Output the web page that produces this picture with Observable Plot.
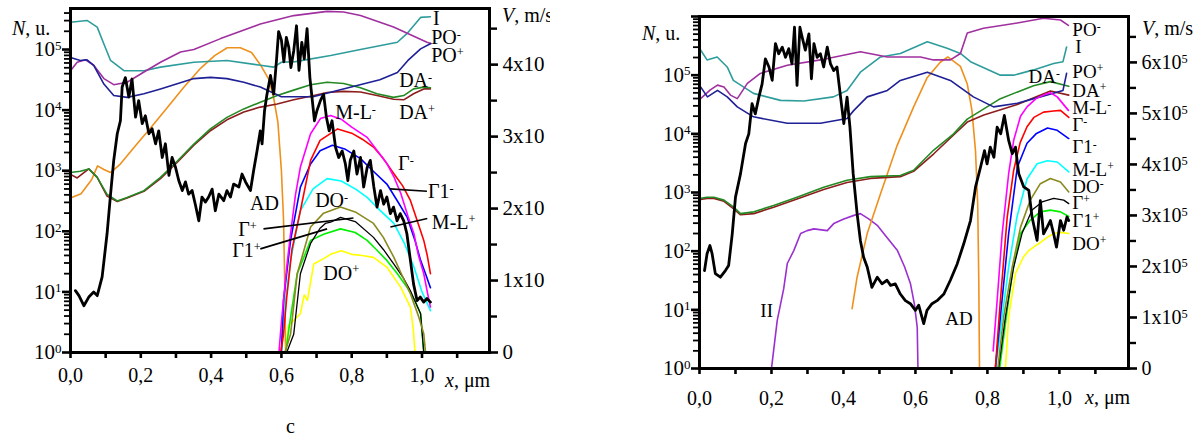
<!DOCTYPE html>
<html><head><meta charset="utf-8">
<script src="https://cdn.jsdelivr.net/npm/d3@7"></script>
<script src="https://cdn.jsdelivr.net/npm/@observablehq/plot@0.6"></script>
<style>
body{margin:0;background:#fff;}
#wrap{position:relative;width:1204px;height:438px;overflow:hidden;background:#fff;font-family:"Liberation Serif","Times New Roman",serif;}
.panel{position:absolute;top:0;height:438px;overflow:hidden;}
.panel svg{position:absolute;left:0;top:0;}
.lab{position:absolute;font-size:20px;line-height:20px;white-space:nowrap;color:#000;transform:translateY(-50%);}
</style></head><body>
<div id="wrap">
 <div id="L" class="panel" style="left:0;width:550px"></div>
 <div id="R" class="panel" style="left:620px;width:584px"></div>
</div>
<script>
// ---------- DATA: [x (µm), log10 N] for N curves; [x, V (x10^5 m/s)] for V ----------
// Left panel
const L_I = [[0,5.45],[0.047,5.48],[0.076,5.37],[0.095,5.09],[0.114,4.82],[0.152,4.65],[0.209,4.65],[0.256,4.71],[0.351,4.79],[0.445,4.82],[0.54,4.74],[0.578,4.71],[0.6,4.79],[0.64,4.8],[0.74,4.9],[0.825,5.0],[0.93,5.12],[0.96,5.28],[0.996,5.53],[1.024,5.54]];
const L_POm = [[0,4.65],[0.019,4.79],[0.043,4.83],[0.066,4.74],[0.095,4.52],[0.123,4.42],[0.161,4.46],[0.209,4.63],[0.256,4.79],[0.313,4.96],[0.351,5.0],[0.427,5.18],[0.54,5.42],[0.635,5.56],[0.73,5.63],[0.777,5.62],[0.825,5.56],[0.919,5.37],[1.014,5.12],[1.025,5.1]];
const L_POp = [[0,4.87],[0.028,4.82],[0.047,4.83],[0.066,4.74],[0.095,4.43],[0.123,4.24],[0.161,4.21],[0.209,4.27],[0.256,4.35],[0.351,4.52],[0.398,4.54],[0.445,4.52],[0.493,4.46],[0.54,4.38],[0.6,4.22],[0.69,4.22],[0.79,4.37],[0.88,4.5],[0.93,4.62],[0.96,4.82],[0.996,5.01],[1.025,5.1]];
const L_DAm = [[0,2.97],[0.028,2.99],[0.052,3.03],[0.076,2.89],[0.104,2.61],[0.133,2.5],[0.161,2.56],[0.209,2.67],[0.256,2.89],[0.304,3.16],[0.351,3.44],[0.398,3.69],[0.445,3.88],[0.493,4.02],[0.54,4.13],[0.588,4.24],[0.635,4.33],[0.683,4.42],[0.73,4.46],[0.777,4.44],[0.825,4.37],[0.872,4.27],[0.919,4.21],[0.948,4.24],[0.976,4.35],[1.005,4.38],[1.024,4.37]];
const L_DAp = [[0,2.94],[0.019,2.88],[0.052,3.03],[0.076,2.89],[0.104,2.58],[0.133,2.49],[0.161,2.55],[0.209,2.66],[0.256,2.87],[0.304,3.14],[0.351,3.42],[0.398,3.66],[0.445,3.84],[0.493,3.97],[0.54,4.05],[0.588,4.1],[0.635,4.17],[0.683,4.23],[0.73,4.29],[0.777,4.31],[0.825,4.3],[0.872,4.24],[0.919,4.18],[0.948,4.17],[0.976,4.27],[1.005,4.35],[1.024,4.35]];
const L_AD = [[0,2.55],[0.03,2.62],[0.06,2.85],[0.077,3.08],[0.095,3.02],[0.114,2.97],[0.14,3.1],[0.18,3.38],[0.23,3.72],[0.275,4.04],[0.32,4.36],[0.37,4.69],[0.41,4.9],[0.446,5.03],[0.483,5.03],[0.515,4.95],[0.54,4.75],[0.565,4.5],[0.578,4.2],[0.59,3.8],[0.6,3.0],[0.606,2.2],[0.609,1.3],[0.612,0]];
const L_MLm = [[0.593,0],[0.6,0.5],[0.606,0.86],[0.615,1.4],[0.626,1.96],[0.64,2.6],[0.654,3.06],[0.683,3.61],[0.711,3.86],[0.74,3.91],[0.77,3.85],[0.8,3.72],[0.844,3.55],[0.87,3.35],[0.9,3.12],[0.92,2.9],[0.94,2.62],[0.96,2.25],[0.977,1.96],[0.99,1.6],[1.005,1.3],[1.015,1.0],[1.024,0.75]];
const L_Gm = [[0.598,0],[0.606,0.3],[0.615,0.9],[0.63,1.7],[0.654,2.34],[0.683,3.17],[0.71,3.5],[0.76,3.69],[0.8,3.62],[0.83,3.52],[0.862,3.39],[0.89,3.2],[0.92,2.95],[0.945,2.75],[0.967,2.51],[0.985,2.2],[1.005,1.85],[1.015,1.6],[1.024,1.3]];
const L_G1m = [[0.6,0],[0.606,0.86],[0.626,1.85],[0.654,2.73],[0.683,3.11],[0.71,3.33],[0.745,3.42],[0.78,3.36],[0.825,3.2],[0.86,3.0],[0.9,2.78],[0.93,2.5],[0.958,2.23],[0.98,1.85],[0.996,1.52],[1.01,1.3],[1.024,1.07]];
const L_MLp = [[0.6,0],[0.606,0.58],[0.626,1.52],[0.654,2.34],[0.69,2.7],[0.73,2.87],[0.77,2.83],[0.81,2.7],[0.844,2.56],[0.88,2.35],[0.92,2.13],[0.95,1.8],[0.977,1.41],[1.0,1.0],[1.024,0.69]];
const L_DOm = [[0.61,0],[0.626,0.3],[0.645,1.3],[0.683,2.07],[0.72,2.3],[0.768,2.4],[0.81,2.32],[0.862,2.13],[0.89,1.9],[0.92,1.57],[0.945,1.25],[0.967,0.97],[0.99,0.6],[1.005,0.31],[1.01,0]];
const L_Gp = [[0.615,0],[0.635,0.3],[0.654,1.3],[0.683,1.8],[0.71,2.05],[0.725,2.13],[0.74,2.15],[0.768,2.23],[0.81,2.16],[0.862,1.9],[0.89,1.7],[0.92,1.46],[0.945,1.25],[0.967,1.02],[0.996,0.64],[1.005,0]];
const L_G1p = [[0.612,0],[0.626,0.58],[0.645,1.3],[0.683,1.85],[0.72,1.95],[0.768,2.04],[0.81,1.98],[0.844,1.85],[0.87,1.7],[0.9,1.52],[0.93,1.3],[0.958,1.07],[0.98,0.85],[0.996,0.64],[1.005,0]];
const L_DOp = [[0.612,0],[0.62,0.45],[0.635,0.53],[0.654,0.64],[0.665,0.95],[0.674,0.86],[0.692,1.46],[0.72,1.55],[0.74,1.62],[0.77,1.68],[0.8,1.62],[0.83,1.6],[0.862,1.57],[0.9,1.41],[0.94,1.07],[0.967,0.75],[0.975,0.4],[0.98,0]];
const L_V = [[0.014,0.86],[0.024,0.79],[0.038,0.65],[0.052,0.77],[0.066,0.84],[0.076,0.79],[0.09,1.05],[0.104,1.65],[0.114,2.2],[0.123,2.67],[0.133,3.04],[0.142,3.22],[0.147,3.69],[0.156,3.82],[0.166,3.55],[0.175,3.8],[0.185,3.27],[0.194,3.5],[0.204,3.18],[0.213,3.29],[0.223,3.04],[0.232,3.11],[0.242,2.9],[0.251,3.08],[0.261,2.71],[0.27,2.9],[0.28,2.46],[0.289,2.71],[0.299,2.57],[0.308,2.39],[0.318,2.25],[0.327,2.37],[0.336,2.2],[0.346,2.25],[0.355,2.06],[0.365,1.83],[0.374,2.16],[0.384,2.09],[0.393,2.16],[0.403,2.27],[0.412,1.97],[0.422,2.2],[0.436,2.11],[0.445,2.25],[0.455,2.16],[0.464,2.34],[0.479,2.3],[0.488,2.48],[0.498,2.37],[0.512,2.25],[0.521,2.53],[0.531,2.81],[0.54,3.08],[0.545,2.9],[0.552,3.36],[0.559,3.59],[0.569,3.85],[0.578,3.59],[0.586,4.06],[0.592,4.46],[0.6,4.34],[0.607,4.04],[0.614,4.38],[0.621,4.24],[0.627,3.96],[0.635,4.19],[0.643,4.54],[0.65,3.92],[0.658,4.31],[0.665,4.08],[0.673,4.5],[0.681,3.82],[0.688,3.5],[0.694,3.22],[0.701,3.36],[0.711,3.5],[0.72,3.59],[0.728,3.27],[0.736,3.08],[0.744,3.22],[0.754,2.85],[0.763,2.71],[0.773,2.8],[0.782,2.62],[0.789,2.39],[0.796,2.67],[0.806,2.8],[0.815,2.48],[0.825,2.71],[0.834,2.3],[0.844,2.57],[0.853,2.67],[0.863,2.3],[0.872,2.02],[0.882,2.25],[0.891,2.06],[0.9,2.16],[0.91,1.93],[0.919,2.02],[0.929,1.83],[0.938,1.93],[0.948,1.83],[0.957,1.65],[0.967,1.28],[0.976,0.95],[0.986,0.72],[0.995,0.77],[1.005,0.7],[1.014,0.75],[1.024,0.7]];

// Right panel
const R_I = [[0.003,5.43],[0.021,5.26],[0.049,5.31],[0.077,5.14],[0.094,4.91],[0.15,4.69],[0.225,4.57],[0.29,4.56],[0.372,4.63],[0.41,4.74],[0.447,5.05],[0.503,5.31],[0.558,5.37],[0.633,5.57],[0.688,5.46],[0.725,5.37],[0.753,5.23],[0.836,5.0],[0.873,5.0],[0.928,5.09],[0.984,5.2],[1.01,5.23],[1.02,5.48]];
const R_POm = [[0.003,4.6],[0.03,4.75],[0.05,4.83],[0.068,4.8],[0.086,4.66],[0.105,4.6],[0.133,4.86],[0.169,5.03],[0.244,5.17],[0.336,5.26],[0.447,5.4],[0.522,5.31],[0.614,5.31],[0.65,5.26],[0.697,5.26],[0.725,5.37],[0.744,5.72],[0.789,5.8],[0.883,5.89],[0.956,5.97],[1.003,5.94],[1.025,5.85]];
const R_POp = [[0.003,4.8],[0.022,4.63],[0.05,4.74],[0.077,4.63],[0.105,4.46],[0.15,4.29],[0.244,4.18],[0.336,4.18],[0.41,4.26],[0.429,4.4],[0.466,4.63],[0.522,4.74],[0.558,4.91],[0.633,5.05],[0.697,4.91],[0.761,4.63],[0.817,4.46],[0.883,4.52],[0.947,4.63],[1.01,4.74],[1.02,5.03]];
const R_DAm = [[0.003,2.9],[0.021,2.92],[0.04,2.92],[0.068,2.87],[0.095,2.75],[0.114,2.64],[0.151,2.67],[0.206,2.78],[0.271,2.92],[0.345,3.09],[0.41,3.21],[0.475,3.27],[0.558,3.29],[0.595,3.38],[0.65,3.72],[0.706,4.0],[0.744,4.25],[0.836,4.6],[0.928,4.82],[0.975,4.89],[1.026,4.81]];
const R_DAp = [[0.003,2.88],[0.021,2.9],[0.04,2.9],[0.068,2.85],[0.095,2.72],[0.114,2.62],[0.151,2.64],[0.206,2.75],[0.271,2.89],[0.345,3.05],[0.41,3.17],[0.475,3.24],[0.558,3.27],[0.595,3.36],[0.651,3.66],[0.706,3.98],[0.744,4.2],[0.79,4.32],[0.883,4.5],[0.975,4.73],[1.026,4.66]];
const R_AD = [[0.424,1.02],[0.438,1.56],[0.466,2.3],[0.503,2.98],[0.549,3.8],[0.595,4.46],[0.632,4.95],[0.669,5.22],[0.69,5.31],[0.725,5.15],[0.744,4.85],[0.757,4.4],[0.767,3.7],[0.773,2.8],[0.776,1.5],[0.778,0]];
const R_II = [[0.2,0],[0.216,0.82],[0.234,1.36],[0.244,1.79],[0.262,2.01],[0.281,2.3],[0.299,2.35],[0.318,2.38],[0.355,2.35],[0.373,2.47],[0.401,2.55],[0.429,2.61],[0.447,2.64],[0.47,2.55],[0.494,2.44],[0.512,2.3],[0.55,2.01],[0.57,1.73],[0.586,1.45],[0.597,1.1],[0.605,0.7],[0.607,0]];
const R_MLm = [[0.816,0.3],[0.827,1.16],[0.841,2.3],[0.859,3.32],[0.873,3.89],[0.892,4.3],[0.91,4.46],[0.935,4.6],[0.956,4.66],[0.975,4.7],[0.994,4.63],[1.025,4.4]];
const R_Gm = [[0.822,0],[0.836,1.16],[0.855,2.58],[0.873,3.38],[0.891,3.85],[0.91,4.12],[0.929,4.28],[0.956,4.37],[0.984,4.39],[1.003,4.4],[1.026,4.28]];
const R_G1m = [[0.822,0],[0.836,0.88],[0.859,2.3],[0.883,3.43],[0.91,3.84],[0.935,4.0],[0.967,4.1],[0.994,4.06],[1.026,3.92]];
const R_MLp = [[0.823,0],[0.841,0.88],[0.859,1.73],[0.882,2.58],[0.91,3.23],[0.938,3.49],[0.967,3.54],[0.994,3.52],[1.026,3.35]];
const R_DOm = [[0.829,0],[0.845,0.88],[0.869,1.73],[0.892,2.41],[0.919,2.87],[0.947,3.15],[0.975,3.24],[1.003,3.18],[1.026,3.01]];
const R_Gp = [[0.831,0],[0.85,0.88],[0.873,1.73],[0.896,2.3],[0.924,2.7],[0.952,2.84],[0.984,2.9],[1.012,2.87],[1.026,2.81]];
const R_G1p = [[0.834,0],[0.85,0.76],[0.869,1.62],[0.892,2.3],[0.919,2.53],[0.947,2.67],[0.975,2.7],[1.003,2.67],[1.026,2.59]];
const R_DOp = [[0.85,0],[0.859,0.88],[0.878,1.62],[0.9,1.9],[0.915,2.01],[0.928,2.07],[0.943,2.13],[0.967,2.24],[0.985,2.3],[1.003,2.32],[1.026,2.3]];
const R_V = [[0.014,1.92],[0.021,2.25],[0.029,2.41],[0.035,2.25],[0.044,1.86],[0.058,1.79],[0.072,1.92],[0.081,2.02],[0.091,2.64],[0.1,3.36],[0.114,3.82],[0.128,4.41],[0.137,4.6],[0.146,5.19],[0.155,4.99],[0.165,5.32],[0.174,5.58],[0.183,6.07],[0.193,5.91],[0.202,5.65],[0.211,6.37],[0.22,6.17],[0.23,6.3],[0.239,6.1],[0.248,6.27],[0.257,5.97],[0.264,6.69],[0.271,5.55],[0.279,6.69],[0.285,6.5],[0.294,6.24],[0.304,6.56],[0.311,5.68],[0.318,6.37],[0.327,6.1],[0.336,6.17],[0.345,5.91],[0.355,6.3],[0.364,5.97],[0.373,5.84],[0.382,5.91],[0.392,5.32],[0.401,4.8],[0.41,5.32],[0.418,4.73],[0.427,3.82],[0.438,3.03],[0.447,2.51],[0.456,2.18],[0.466,1.99],[0.479,1.59],[0.494,1.79],[0.507,1.66],[0.521,1.73],[0.531,1.63],[0.544,1.66],[0.558,1.46],[0.572,1.33],[0.586,1.27],[0.6,1.14],[0.609,1.24],[0.623,0.88],[0.632,1.14],[0.646,1.27],[0.66,1.33],[0.679,1.46],[0.697,1.73],[0.716,2.05],[0.734,2.44],[0.753,2.9],[0.767,3.56],[0.781,3.95],[0.792,4.27],[0.799,4.01],[0.808,4.34],[0.818,4.14],[0.827,4.73],[0.837,4.6],[0.847,4.96],[0.859,4.47],[0.869,4.21],[0.878,4.34],[0.887,3.82],[0.901,3.56],[0.915,3.49],[0.924,2.97],[0.938,2.51],[0.947,3.29],[0.956,2.64],[0.966,2.77],[0.975,2.9],[0.984,2.64],[0.992,2.38],[1.003,2.9],[1.012,2.71],[1.021,2.97],[1.026,2.9]];

// Curve labels: [text, x, log10 N]
const L_labels = [["I",1.031,5.51],["PO^-",1.026,5.2],["PO^+",1.026,4.9],["DA^-",0.935,4.49],["DA^+",0.935,3.96],["M-L^-",0.753,3.96],["Γ^-",0.932,3.12],["Γ1^-",1.017,2.66],["M-L^+",1.028,2.14],["AD",0.511,2.45],["DO^-",0.696,2.5],["Γ^+",0.477,2.03],["Γ1^+",0.46,1.68],["DO^+",0.719,1.31]];
const L_leaders = [[0.909,2.7,1.014,2.66],[0.91,2.07,1.015,2.21],[0.549,2.04,0.805,2.22],[0.54,1.71,0.73,2.04]];
const R_labels = [["PO^-",1.036,5.77],["I",1.044,5.48],["DA^-",0.914,4.97],["PO^+",1.036,5.05],["DA^+",1.036,4.74],["M-L^-",1.036,4.44],["Γ^-",1.036,4.15],["Γ1^-",1.036,3.77],["M-L^+",1.036,3.38],["DO^-",1.036,3.09],["Γ^+",1.036,2.82],["Γ1^+",1.036,2.51],["DO^+",1.036,2.13],["II",0.169,0.99],["AD",0.683,0.85]];

// Tick values
const X_TICKS = [0,0.1,0.2,0.3,0.4,0.5,0.6,0.7,0.8,0.9,1.0,1.1];
const X_LABELS = [0,0.2,0.4,0.6,0.8,1.0];
const N_DECADES = [1,10,100,1000,10000,100000];
const V_MAJOR_L = [0,1,2,3,4], V_MINOR_L = [0.5,1.5,2.5,3.5,4.5];
const V_MAJOR_R = [0,1,2,3,4,5,6], V_MINOR_R = [0.5,1.5,2.5,3.5,4.5,5.5,6.5];

const C = {I:"#2f9c9c", POm:"#a0309f", POp:"#1f1f96", DAm:"#238a23", DAp:"#8e1e1e", AD:"#f0901c",
  MLm:"#ff00ff", Gm:"#ff0000", G1m:"#0000ff", MLp:"#00ffff", DOm:"#8a8a1e", Gp:"#000000", G1p:"#00f000", DOp:"#ffff00", II:"#9b30d0"};
const FONT = '"Liberation Serif","Times New Roman",serif';
const XDOM = [0, 1.192];

function minorTicks(top){
  const t=[]; for(let k=0;k<7;k++) for(let m=2;m<=9;m++){const v=m*10**k; if(v<=top) t.push(v);} return t;
}
function supify(root){
  const els=[...root.querySelectorAll("text, tspan")].filter(e=>e.childElementCount===0 && e.textContent.includes("^"));
  for(const e of els){
    const s=e.textContent, i=s.indexOf("^");
    e.textContent=s.slice(0,i);
    const t=document.createElementNS("http://www.w3.org/2000/svg","tspan");
    t.setAttribute("dy","-0.5em"); t.setAttribute("font-size","0.62em");
    t.textContent=s.slice(i+1);
    e.appendChild(t);
  }
}
function addLabel(host, html, left, top, extra){
  const d=document.createElement("div"); d.className="lab"; d.innerHTML=html;
  d.style.left=left+"px"; d.style.top=top+"px"; if(extra) Object.assign(d.style, extra);
  host.appendChild(d);
}

function buildPanel(host, cfg){
  const common = {width:cfg.w, height:438, marginLeft:cfg.mL, marginRight:cfg.mR, marginTop:cfg.mT, marginBottom:cfg.mB,
    style:{fontFamily:FONT, fontSize:"20px", background:"transparent", color:"#000", overflow:"visible"}};
  const N = Plot.plot({...common,
    x:{domain:XDOM}, y:{type:"log", domain:[1, cfg.nTop]},
    marks:[
      ...cfg.series.map(s=>Plot.line(s.pts,{x:d=>d[0], y:d=>10**d[1], stroke:s.c, strokeWidth:s.w||1.6, clip:true})),
      Plot.link(cfg.leaders,{x1:d=>d[0], y1:d=>10**d[1], x2:d=>d[2], y2:d=>10**d[3], stroke:"#000", strokeWidth:1.6}),
      Plot.axisY({anchor:"left", ticks:minorTicks(cfg.nTop), tickSize:6, strokeWidth:1.8, tickFormat:()=>"", label:null}),
      Plot.axisY({anchor:"left", ticks:N_DECADES.concat(cfg.nTop>=1e6?[1e6]:[]), tickSize:8, tickPadding:1, strokeWidth:2.6, fontSize:21,
        tickFormat:d=> d<=1e5 ? "10^"+Math.round(Math.log10(d)) : "", label:null}),
      Plot.axisX({anchor:"bottom", ticks:X_TICKS, tickSize:6, strokeWidth:2.6, tickFormat:()=>"", label:null}),
      Plot.axisX({anchor:"bottom", ticks:X_LABELS, tickSize:0, tickPadding:cfg.xPad, fontSize:20,
        tickFormat:d=>d.toFixed(1).replace(".",","), label:null}),
      Plot.frame({stroke:"#000", strokeWidth:3}),
      Plot.text(cfg.labels,{x:d=>d[1], y:d=>10**d[2], text:d=>d[0], textAnchor:"start", fontSize:cfg.labSize, fill:"#000"})
    ]});
  const V = Plot.plot({...common,
    x:{domain:XDOM, axis:null}, y:{domain:[0,cfg.vTop]},
    marks:[
      Plot.line(cfg.vData,{x:d=>d[0], y:d=>d[1], stroke:"#000", strokeWidth:2.8, clip:true}),
      Plot.axisY({anchor:"right", ticks:cfg.vMinor, tickSize:7, strokeWidth:2.4, tickFormat:()=>"", label:null}),
      Plot.axisY({anchor:"right", ticks:cfg.vMajor, tickSize:8, tickPadding:5, strokeWidth:2.6, fontSize:cfg.vSize,
        tickFormat:d=> d===0 ? "0" : d+cfg.vSuffix, label:null})
    ]});
  supify(N); supify(V);
  host.appendChild(N); host.appendChild(V);
}

const Lh=document.getElementById("L"), Rh=document.getElementById("R");
// left panel: the source image is cropped, so its V labels read "4x10" (exponent cut off)
buildPanel(Lh, {w:550, mL:70, mR:61, mT:8, mB:86, nTop:10**5.677, vTop:4.78, xPad:15, labSize:20, vSize:21, vSuffix:"x10",
  series:[{pts:L_AD,c:C.AD},{pts:L_DAp,c:C.DAp},{pts:L_DAm,c:C.DAm},{pts:L_I,c:C.I},{pts:L_POm,c:C.POm},{pts:L_POp,c:C.POp},
    {pts:L_DOp,c:C.DOp},{pts:L_G1p,c:C.G1p},{pts:L_Gp,c:C.Gp,w:1.3},{pts:L_DOm,c:C.DOm},{pts:L_MLp,c:C.MLp},
    {pts:L_G1m,c:C.G1m},{pts:L_Gm,c:C.Gm},{pts:L_MLm,c:C.MLm}],
  vData:L_V, vMajor:V_MAJOR_L, vMinor:V_MINOR_L, labels:L_labels, leaders:L_leaders});
buildPanel(Rh, {w:584, mL:79, mR:76, mT:16, mB:70, nTop:1e6, vTop:6.9, xPad:22, labSize:19, vSize:20, vSuffix:"x10^5",
  series:[{pts:R_II,c:C.II},{pts:R_AD,c:C.AD},{pts:R_DAp,c:C.DAp},{pts:R_DAm,c:C.DAm},{pts:R_I,c:C.I},{pts:R_POm,c:C.POm},{pts:R_POp,c:C.POp},
    {pts:R_DOp,c:C.DOp},{pts:R_G1p,c:C.G1p},{pts:R_Gp,c:C.Gp,w:1.3},{pts:R_DOm,c:C.DOm},{pts:R_MLp,c:C.MLp},
    {pts:R_G1m,c:C.G1m},{pts:R_Gm,c:C.Gm},{pts:R_MLm,c:C.MLm}],
  vData:R_V, vMajor:V_MAJOR_R, vMinor:V_MINOR_R, labels:R_labels, leaders:[]});

// Axis titles and caption
addLabel(Lh, "<i>N</i>, u.", 12, 28);
addLabel(Lh, "<i>V</i>, m/s", 502, 15);
addLabel(Lh, "<i>x</i>, μm", 445, 380);
addLabel(Lh, "c", 286, 426);
addLabel(Rh, "<i>N</i>, u.", 22, 33);
addLabel(Rh, "<i>V</i>, m/s", 522, 28);
addLabel(Rh, "<i>x</i>, μm", 465, 397);
</script>
</body></html>
